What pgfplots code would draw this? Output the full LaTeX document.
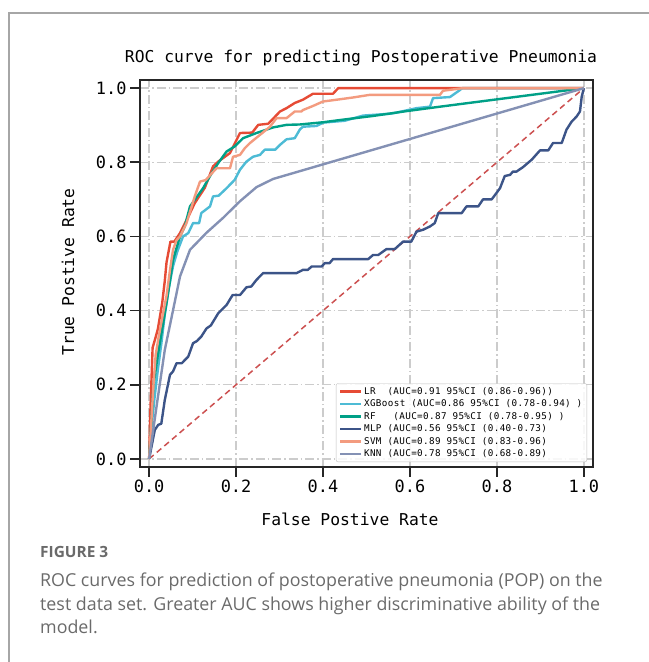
\documentclass[border=0pt]{standalone}
\usepackage{fontspec}
\usepackage{pgfplots}
\pgfplotsset{compat=1.18}
\setmainfont{DejaVu Sans Mono}
\newfontfamily\monofont{DejaVu Sans Mono}
\newfontfamily\legfont[LetterSpace=4]{DejaVu Sans Mono}
\newfontfamily\capfont{Open Sans}
\definecolor{cLR}{HTML}{E64B35}
\definecolor{cXGB}{HTML}{4DBBD5}
\definecolor{cRF}{HTML}{00A087}
\definecolor{cMLP}{HTML}{3C5488}
\definecolor{cSVM}{HTML}{F39B7F}
\definecolor{cKNN}{HTML}{8491B4}
\definecolor{cDiag}{HTML}{CC5050}
\definecolor{capgray}{HTML}{6A6A6A}
\begin{document}
\begin{tikzpicture}[x=1bp,y=1bp]
\useasboundingbox (0,0) rectangle (649,662);
\draw[line width=1.2bp, black!35] (9,-5) -- (9,649) -- (660,649);
\begin{axis}[
  at={(140bp,195.3bp)}, anchor=south west,
  scale only axis, width=453bp, height=386.7bp,
  xmin=-0.021, xmax=1.021, ymin=-0.021, ymax=1.022,
  xtick={0,0.2,0.4,0.6,0.8,1.0}, ytick={0,0.2,0.4,0.6,0.8,1.0},
  xticklabels={0.0,0.2,0.4,0.6,0.8,1.0},
  yticklabels={0.0,0.2,0.4,0.6,0.8,1.0},
  tick pos=left, tick align=outside, major tick length=10bp,
  every tick/.style={line width=1.6bp, black!85},
  axis line style={line width=1.8bp, black!85},
  grid=major,
  major grid style={black!20, line width=1.3bp, dash pattern=on 9bp off 3bp on 1.5bp off 3bp},
  tick label style={font=\monofont\fontsize{17}{17}\selectfont},
  legend cell align=left,
  legend image code/.code={\draw[#1] (0bp,0bp) -- (21bp,0bp);},
  legend style={at={(rel axis cs:0.987,0.012)}, anchor=south east,
    font=\legfont\fontsize{9.3}{10}\selectfont,
    draw=black!25, fill=white, fill opacity=0.85, text opacity=1,
    rounded corners=2bp, row sep=0.8bp,
    nodes={inner sep=1.6bp}},
  every axis plot/.append style={line width=2.4bp, line join=round},
]
\addplot[cDiag, line width=1.5bp, dash pattern=on 6bp off 4bp, forget plot] coordinates {(0,0) (1,1)};
\addplot[cLR] coordinates {
(0,0) (0.002,0.1) (0.005,0.2) (0.008,0.30) (0.013,0.32) (0.02,0.35) (0.03,0.42) (0.036,0.48) (0.04,0.53)
(0.049,0.586) (0.058,0.586) (0.071,0.609) (0.094,0.663) (0.105,0.69) (0.128,0.731) (0.147,0.789)
(0.159,0.802) (0.186,0.825) (0.209,0.879) (0.237,0.88) (0.251,0.901) (0.274,0.904) (0.301,0.937)
(0.316,0.946) (0.335,0.96) (0.354,0.969) (0.377,0.985) (0.423,0.985) (0.435,1) (1,1)};
\addlegendentry{LR~~(AUC=0.91 95\%CI (0.86-0.96))}
\addplot[cXGB] coordinates {
(0,0) (0.005,0.08) (0.012,0.16) (0.02,0.24) (0.028,0.31) (0.036,0.39) (0.045,0.46) (0.055,0.52)
(0.065,0.56) (0.078,0.60) (0.09,0.609) (0.101,0.636) (0.115,0.636) (0.12,0.663) (0.14,0.681)
(0.147,0.708) (0.16,0.71) (0.178,0.73) (0.197,0.753) (0.209,0.78) (0.224,0.802) (0.239,0.815)
(0.255,0.82) (0.266,0.834) (0.29,0.834) (0.301,0.847) (0.316,0.862) (0.335,0.865) (0.347,0.889)
(0.354,0.896) (0.385,0.898) (0.4,0.907) (0.45,0.912) (0.492,0.926) (0.554,0.931) (0.569,0.934)
(0.615,0.946) (0.646,0.95) (0.653,0.973) (0.692,0.976) (0.715,0.995) (0.72,1) (1,1)};
\addlegendentry{XGBoost (AUC=0.86 95\%CI (0.78-0.94) )}
\addplot[cRF] coordinates {
(0,0) (0.005,0.1) (0.01,0.2) (0.02,0.28) (0.03,0.35) (0.04,0.42) (0.048,0.48) (0.055,0.537)
(0.071,0.6) (0.082,0.627) (0.094,0.681) (0.105,0.699) (0.124,0.73) (0.144,0.771) (0.159,0.798)
(0.178,0.829) (0.197,0.843) (0.216,0.865) (0.247,0.879) (0.285,0.894) (0.316,0.901) (0.347,0.902)
(0.4,0.908) (0.439,0.914) (0.515,0.925) (0.592,0.938) (0.669,0.95) (1,1)};
\addlegendentry{RF~~~(AUC=0.87 95\%CI (0.78-0.95) )}
\addplot[cMLP] coordinates {
(0,0) (0.013,0.078) (0.021,0.092) (0.028,0.095) (0.036,0.159) (0.048,0.227) (0.055,0.236)
(0.063,0.258) (0.075,0.258) (0.09,0.276) (0.101,0.312) (0.11,0.318) (0.12,0.33) (0.132,0.352)
(0.142,0.36) (0.159,0.393) (0.178,0.415) (0.192,0.442) (0.209,0.442) (0.224,0.463) (0.235,0.465)
(0.247,0.483) (0.262,0.501) (0.339,0.501) (0.354,0.51) (0.365,0.51) (0.374,0.519) (0.397,0.519)
(0.404,0.528) (0.415,0.528) (0.423,0.539) (0.504,0.539) (0.515,0.55) (0.527,0.55) (0.546,0.566)
(0.565,0.566) (0.584,0.586) (0.603,0.586) (0.615,0.613) (0.63,0.618) (0.646,0.627) (0.657,0.636)
(0.665,0.663) (0.719,0.663) (0.73,0.681) (0.757,0.681) (0.768,0.7) (0.788,0.7) (0.807,0.73)
(0.818,0.763) (0.83,0.766) (0.837,0.775) (0.845,0.775) (0.86,0.787) (0.88,0.807) (0.899,0.832)
(0.918,0.832) (0.929,0.852) (0.949,0.852) (0.96,0.888) (0.972,0.91) (0.983,0.923) (0.991,0.937)
(0.995,0.977) (1,1)};
\addlegendentry{MLP (AUC=0.56 95\%CI (0.40-0.73)}
\addplot[cSVM] coordinates {
(0,0) (0.005,0.1) (0.01,0.2) (0.015,0.28) (0.022,0.33) (0.03,0.38) (0.04,0.44) (0.048,0.51)
(0.055,0.564) (0.063,0.59) (0.071,0.60) (0.086,0.636) (0.105,0.708) (0.117,0.748) (0.13,0.752)
(0.155,0.784) (0.186,0.784) (0.193,0.815) (0.209,0.82) (0.22,0.838) (0.232,0.852) (0.255,0.874)
(0.278,0.896) (0.293,0.919) (0.316,0.919) (0.335,0.937) (0.35,0.937) (0.354,0.941) (0.377,0.952)
(0.4,0.964) (0.42,0.967) (0.439,0.97) (0.47,0.975) (0.508,0.982) (0.669,0.982) (0.676,0.993)
(0.722,1) (1,1)};
\addlegendentry{SVM (AUC=0.89 95\%CI (0.83-0.96)}
\addplot[cKNN] coordinates {
(0,0) (0.017,0.141) (0.036,0.294) (0.052,0.384) (0.071,0.492) (0.094,0.564) (0.132,0.61)
(0.17,0.65) (0.209,0.695) (0.247,0.733) (0.285,0.755) (1,1)};
\addlegendentry{KNN (AUC=0.78 95\%CI (0.68-0.89)}
\end{axis}
\node[anchor=base, font=\monofont\fontsize{16.4}{18}\selectfont] at (361,599) {ROC curve for predicting Postoperative Pneumonia};
\node[anchor=base, font=\monofont\fontsize{16.4}{18}\selectfont] at (350,136) {False Postive Rate};
\node[rotate=90, font=\monofont\fontsize{16.4}{18}\selectfont] at (68,390) {True Postive Rate};
\node[anchor=base west, inner sep=0, text=capgray, font=\capfont\bfseries\fontsize{15.5}{17}\selectfont] at (40,104) {FIGURE 3};
\node[anchor=base west, inner sep=0, text=capgray, font=\capfont\fontsize{17.9}{20}\selectfont] at (40,75) {ROC curves for prediction of postoperative pneumonia (POP) on the};
\node[anchor=base west, inner sep=0, text=capgray, font=\capfont\fontsize{17.9}{20}\selectfont] at (40,51) {test data set. Greater AUC shows higher discriminative ability of the};
\node[anchor=base west, inner sep=0, text=capgray, font=\capfont\fontsize{17.9}{20}\selectfont] at (40,28) {model.};
\end{tikzpicture}
\end{document}
